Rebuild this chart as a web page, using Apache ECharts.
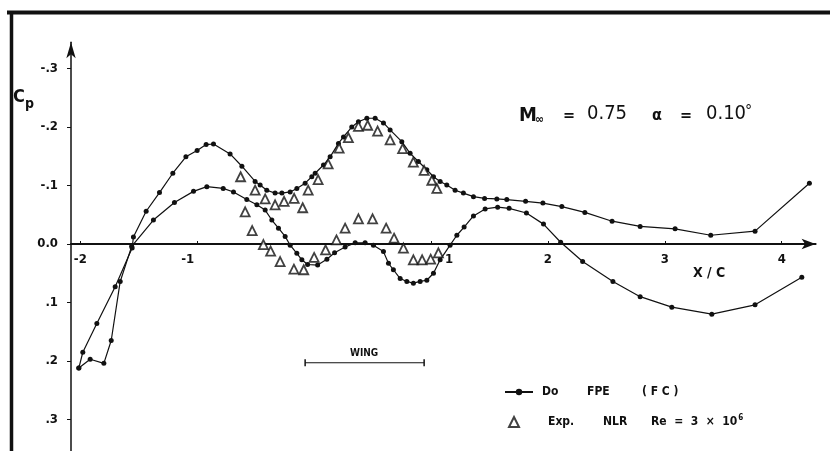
<!DOCTYPE html>
<html><head><meta charset="utf-8">
<script src="https://cdn.jsdelivr.net/npm/echarts@6/dist/echarts.min.js"></script>
<style>html,body{margin:0;padding:0;background:#fff}#c{width:830px;height:451px}</style>
</head><body><div id="c"></div>
<script>
// ---- data (x/c, Cp) ----
const upperX = [-2.013,-1.979,-1.859,-1.702,-1.557,-1.546,-1.437,-1.323,-1.209,-1.097,-1.001,-0.924,-0.861,-0.719,-0.618,-0.505,-0.462,-0.405,-0.334,-0.276,-0.205,-0.148,-0.077,-0.020,0.009,0.080,0.137,0.208,0.251,0.322,0.379,0.451,0.522,0.593,0.650,0.750,0.821,0.892,0.964,1.021,1.078,1.135,1.206,1.277,1.363,1.458,1.563,1.648,1.809,1.957,2.119,2.316,2.549,2.789,3.088,3.393,3.772,4.237];
const upperCp = [0.212,0.185,0.136,0.073,0.007,-0.012,-0.056,-0.088,-0.121,-0.149,-0.160,-0.170,-0.171,-0.154,-0.133,-0.107,-0.101,-0.092,-0.087,-0.087,-0.089,-0.095,-0.104,-0.115,-0.121,-0.135,-0.149,-0.172,-0.183,-0.200,-0.209,-0.215,-0.215,-0.207,-0.195,-0.175,-0.155,-0.141,-0.127,-0.115,-0.107,-0.101,-0.092,-0.087,-0.081,-0.078,-0.077,-0.076,-0.073,-0.070,-0.064,-0.054,-0.039,-0.030,-0.026,-0.015,-0.022,-0.104];
const lowerX = [-2.013,-1.916,-1.799,-1.736,-1.659,-1.561,-1.375,-1.195,-1.032,-0.918,-0.778,-0.690,-0.576,-0.490,-0.419,-0.362,-0.305,-0.248,-0.205,-0.148,-0.105,-0.056,0.030,0.109,0.175,0.265,0.351,0.436,0.507,0.593,0.636,0.678,0.736,0.793,0.849,0.907,0.964,1.021,1.078,1.163,1.221,1.283,1.363,1.463,1.570,1.668,1.816,1.962,2.109,2.297,2.556,2.789,3.060,3.402,3.772,4.172];
const lowerCp = [0.212,0.197,0.204,0.165,0.064,0.004,-0.041,-0.071,-0.090,-0.098,-0.095,-0.089,-0.076,-0.067,-0.058,-0.041,-0.027,-0.013,0.002,0.016,0.027,0.035,0.036,0.026,0.015,0.005,-0.002,-0.002,0.002,0.013,0.033,0.044,0.059,0.064,0.067,0.064,0.062,0.050,0.027,0.002,-0.015,-0.029,-0.048,-0.060,-0.063,-0.061,-0.053,-0.034,-0.003,0.030,0.064,0.090,0.108,0.120,0.104,0.057];
const expUpperX = [-0.629,-0.505,-0.419,-0.334,-0.257,-0.171,-0.098,-0.051,0.034,0.120,0.214,0.293,0.379,0.458,0.543,0.650,0.757,0.849,0.941,1.007,1.050];
const expUpperCp = [-0.115,-0.092,-0.077,-0.067,-0.073,-0.078,-0.062,-0.092,-0.110,-0.137,-0.164,-0.182,-0.201,-0.203,-0.193,-0.178,-0.163,-0.140,-0.126,-0.109,-0.095];
const expLowerX = [-0.590,-0.530,-0.434,-0.372,-0.291,-0.173,-0.089,0.000,0.098,0.191,0.265,0.379,0.500,0.616,0.684,0.764,0.849,0.924,0.997,1.063];
const expLowerCp = [-0.055,-0.023,0.001,0.012,0.030,0.043,0.044,0.023,0.010,-0.007,-0.027,-0.043,-0.043,-0.027,-0.010,0.007,0.027,0.027,0.026,0.015];
const wingX = [-0.077, 0.941];
const wingCp = [0.203, 0.203];
const xTickValues = [-2,-1,1,2,3,4];
const xTickLabels = ['-2','-1','1','2','3','4'];
const yTickValues = [-0.3,-0.2,-0.1,0,0.1,0.2,0.3];
const yTickLabels = ['-.3','-.2','-.1','0.0','.1','.2','.3'];
const nameFPE = 'Do FPE (FC)';
const nameEXP = 'Exp. NLR';

const zip = (xs, ys) => xs.map((x, i) => [x, ys[i]]);
const nearestIdx = (vals, v) => {
  let best = 0;
  vals.forEach((t, i) => { if (Math.abs(t - v) < Math.abs(vals[best] - v)) best = i; });
  return best;
};
const FONT = '"DejaVu Sans Condensed", "DejaVu Sans", sans-serif';
const INK = '#111';

// y-axis extent and grid geometry
const yMin = -0.345, yMax = 0.36;
const gridTop = 42.2, gridH = 412.4;
const zeroOffset = gridH * (yMax - 0) / (yMax - yMin);

// label style tweaks (hand-lettered original places some labels off the tick)
const xLabelStyle = {color: INK, fontSize: 13, fontWeight: 'bold', fontFamily: FONT};
const xRich = {
  n: xLabelStyle,
  l: Object.assign({padding: [0, 19, 0, 0]}, xLabelStyle),
  r: Object.assign({padding: [0, 0, 0, 36]}, xLabelStyle)
};
const xFormatter = v => {
  const lbl = xTickLabels[nearestIdx(xTickValues, v)];
  const key = lbl === '1' ? 'r' : (lbl === '-1' ? 'l' : 'n');
  return '{' + key + '|' + lbl + '}';
};

const chart = echarts.init(document.getElementById('c'), null, {renderer: 'canvas'});
const lineSeries = (data) => ({
  type: 'line', name: nameFPE, data, symbol: 'circle', symbolSize: 5, showAllSymbol: true,
  lineStyle: {color: INK, width: 1.2}, itemStyle: {color: INK}, z: 2
});
const triSeries = (data) => ({
  type: 'scatter', name: nameEXP, data, symbol: 'triangle', symbolSize: 9,
  itemStyle: {color: '#fff', borderColor: INK, borderWidth: 1.8}, z: 3
});
const legText = {
  color: INK, fontFamily: FONT, fontSize: 12, fontWeight: 'bold', lineHeight: 16,
  rich: {
    g1: {width: 4}, g2: {width: 24},
    a: {width: 45, fontWeight: 'bold', fontSize: 12, fontFamily: FONT},
    b: {width: 55, fontWeight: 'bold', fontSize: 12, fontFamily: FONT},
    c: {fontWeight: 'bold', fontSize: 12, fontFamily: FONT},
    d: {width: 55, fontWeight: 'bold', fontSize: 12, fontFamily: FONT},
    e: {width: 48, fontWeight: 'bold', fontSize: 12, fontFamily: FONT},
    f: {fontWeight: 'bold', fontSize: 12, fontFamily: FONT},
    s: {fontWeight: 'bold', fontSize: 8, fontFamily: FONT, padding: [0, 0, 8, 1]}
  }
};

chart.setOption({
  animation: false,
  backgroundColor: '#fff',
  grid: {left: 71, top: gridTop, width: 744.6, height: gridH, outerBoundsMode: 'none'},
  xAxis: {
    type: 'value', min: -2.08, max: 4.29, position: 'bottom', offset: -zeroOffset,
    axisLine: {onZero: false, symbol: ['none', 'arrow'], symbolSize: [8, 14], lineStyle: {color: INK, width: 2}},
    axisTick: {show: true, customValues: xTickValues, inside: true, length: 3, lineStyle: {color: INK}},
    axisLabel: {show: true, customValues: xTickValues, formatter: xFormatter, margin: 9,
      rich: xRich, hideOverlap: false},
    splitLine: {show: false}
  },
  yAxis: {
    type: 'value', min: yMin, max: yMax, inverse: true,
    axisLine: {show: true, onZero: false, symbol: ['none', 'arrow'], symbolSize: [7, 16], lineStyle: {color: INK, width: 1.5}},
    axisTick: {show: true, customValues: yTickValues, length: 4, lineStyle: {color: INK}},
    axisLabel: {customValues: yTickValues, formatter: v => yTickLabels[nearestIdx(yTickValues, v)], margin: 13,
      color: INK, fontSize: 13, fontWeight: 'bold', fontFamily: FONT},
    splitLine: {show: false}
  },
  legend: [
    {
      orient: 'vertical', left: 499, top: 379, itemWidth: 28, itemHeight: 8,
      data: [nameFPE],
      formatter: () => '{g1| }{a|Do}{b|FPE}{c|( F C )}',
      textStyle: legText
    },
    {
      orient: 'vertical', left: 503, top: 409, itemWidth: 10, itemHeight: 10,
      data: [nameEXP],
      formatter: () => '{g2| }{d|Exp.}{e|NLR}{f|Re  =  3  ×  10}{s|6}',
      textStyle: legText
    }
  ],
  graphic: [
    {type: 'line', shape: {x1: 7, y1: 12.5, x2: 830, y2: 12.5}, style: {stroke: INK, lineWidth: 4}},
    {type: 'line', shape: {x1: 11.5, y1: 11, x2: 11.5, y2: 451}, style: {stroke: INK, lineWidth: 3.5}},
    {type: 'text', left: 13, top: 88, style: {text: 'C', font: 'bold 18px ' + FONT, fill: INK}},
    {type: 'text', left: 25, top: 97, style: {text: 'p', font: 'bold 14px ' + FONT, fill: INK}},
    {type: 'text', left: 693, top: 266, style: {text: 'X / C', font: 'bold 14px ' + FONT, fill: INK}},
    {type: 'text', left: 350, top: 348, style: {text: 'WING', font: 'bold 10px ' + FONT, fill: INK}},
    {type: 'text', left: 519, top: 106, style: {text: 'M', font: 'bold 20px ' + FONT, fill: INK}},
    {type: 'text', left: 535, top: 114, style: {text: '∞', font: 'bold 12px ' + FONT, fill: INK}},
    {type: 'text', left: 563, top: 108, style: {text: '=', font: 'bold 16px ' + FONT, fill: INK}},
    {type: 'text', left: 587, top: 104, style: {text: '0.75', font: '20px ' + FONT, fill: INK}},
    {type: 'text', left: 652, top: 108, style: {text: 'α', font: 'bold 16px ' + FONT, fill: INK}},
    {type: 'text', left: 680, top: 108, style: {text: '=', font: 'bold 16px ' + FONT, fill: INK}},
    {type: 'text', left: 706, top: 104, style: {text: '0.10', font: '20px ' + FONT, fill: INK}},
    {type: 'text', left: 745, top: 104, style: {text: '°', font: '16px ' + FONT, fill: INK}}
  ],
  series: [
    lineSeries(zip(upperX, upperCp)),
    lineSeries(zip(lowerX, lowerCp)),
    triSeries(zip(expUpperX, expUpperCp)),
    triSeries(zip(expLowerX, expLowerCp)),
    {type: 'line', name: 'wing', data: zip(wingX, wingCp), symbol: 'rect', symbolSize: [1.5, 7],
      lineStyle: {color: INK, width: 1.2}, itemStyle: {color: INK}, silent: true}
  ]
});
</script></body></html>
